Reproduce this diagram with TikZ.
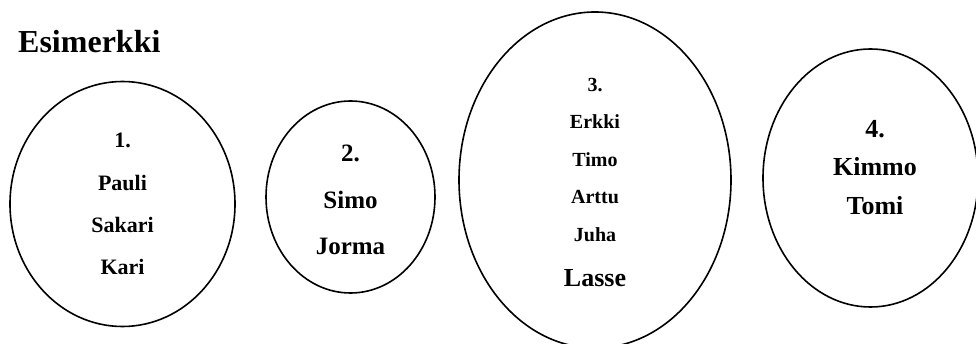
\documentclass[tikz,border=0pt]{standalone}
\usepackage{fontspec}
\setmainfont{Liberation Serif}
\usetikzlibrary{shapes.geometric}

\begin{document}
\begin{tikzpicture}[x=1pt, y=-1pt,
                groupnode/.style={ellipse, draw, line width=1.6pt, inner sep=0pt},
                namesnode/.style={align=center, inner sep=0pt, font=\bfseries},
                titlenode/.style={anchor=base west, inner sep=0pt, font=\bfseries\fontsize{32}{38}\selectfont},
            ]
            \clip (0,0) rectangle (976,344);

            % Title
            \node[titlenode]        (title)     at (18,53)          {Esimerkki};

            % Groups
            \node[groupnode, minimum width=225pt, minimum height=245pt]     (group_1)   at (122.5,204)   {};
            \node[groupnode, minimum width=169pt, minimum height=192pt]     (group_2)   at (350.5,197)   {};
            \node[groupnode, minimum width=272pt, minimum height=336pt]     (group_3)   at (595,180)     {};
            \node[groupnode, minimum width=215pt, minimum height=258pt]     (group_4)   at (870.5,178)   {};

            % Names
            \node[namesnode, font=\bfseries\fontsize{22}{42.3}\selectfont]  (names_1)   at (122.5,204)
                {1.\\Pauli\\Sakari\\Kari};
            \node[namesnode, font=\bfseries\fontsize{25}{46.5}\selectfont]  (names_2)   at (350.5,200)
                {2.\\Simo\\Jorma};
            \node[namesnode, font=\bfseries\fontsize{20}{37.5}\selectfont]  (names_3)   at (595,182.5)
                {3.\\Erkki\\Timo\\Arttu\\Juha\\[7.5pt]{\fontsize{26}{30}\selectfont Lasse}};
            \node[namesnode, font=\bfseries\fontsize{26}{38.5}\selectfont]  (names_4)   at (875,167.5)
                {4.\\Kimmo\\Tomi};
        \end{tikzpicture}
\end{document}
